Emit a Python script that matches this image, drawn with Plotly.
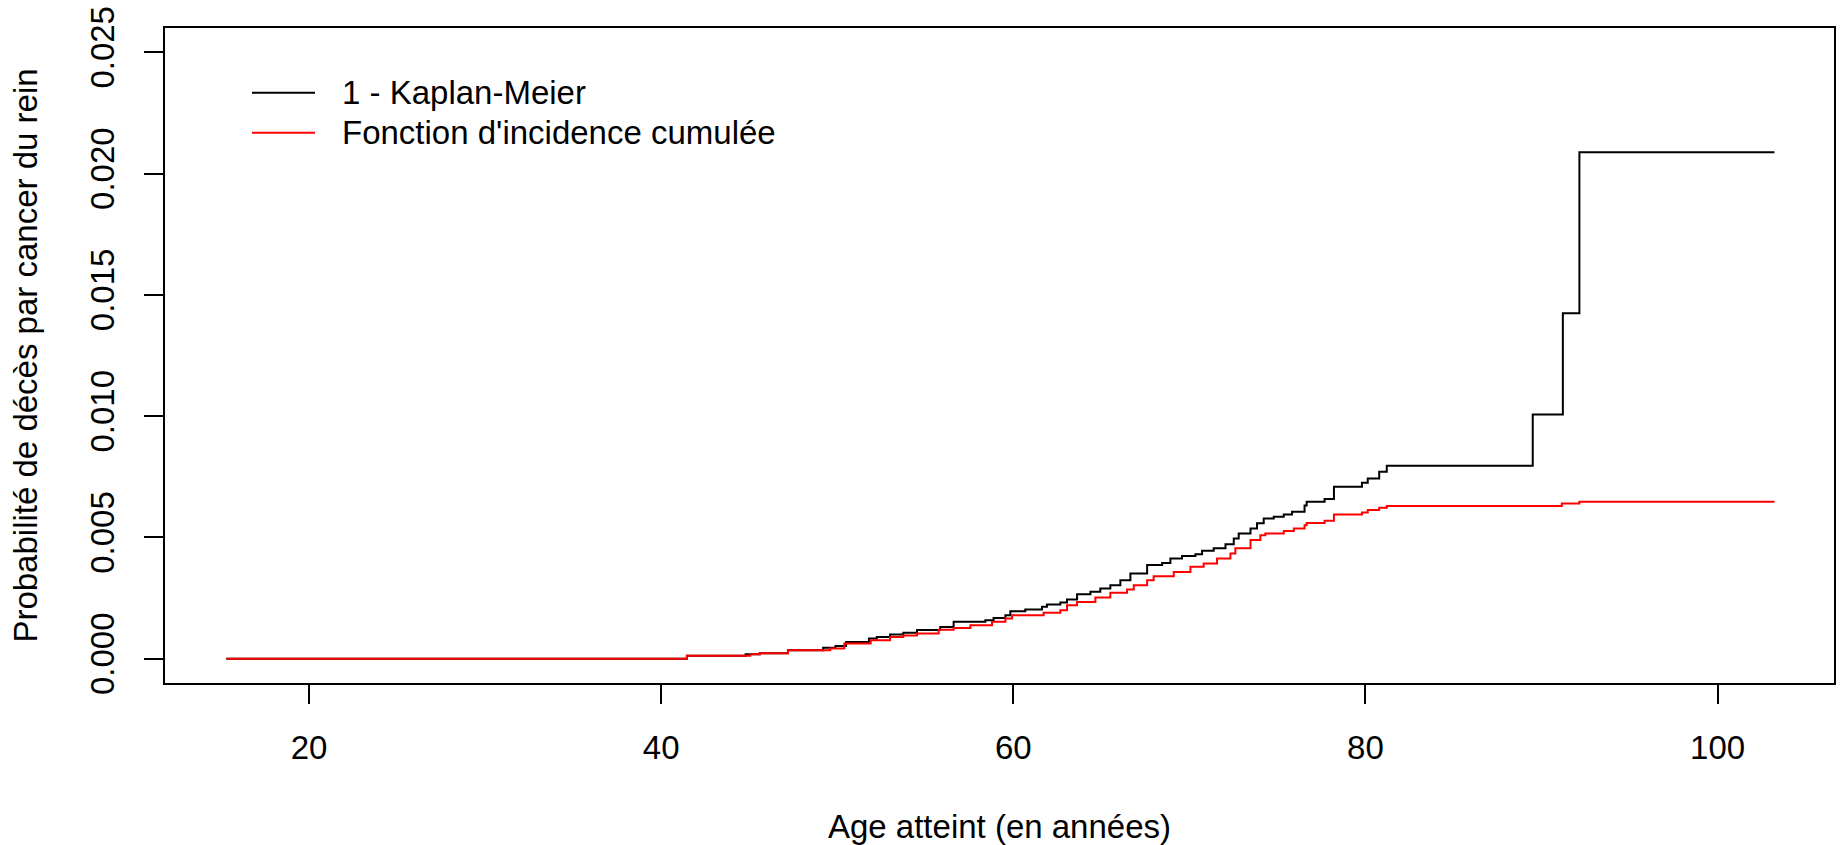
import plotly.graph_objects as go

# Ages (years) at which each curve jumps, and the value reached after the jump
km_age = [15.3, 41.46, 44.8, 45.6, 47.2, 49.2, 49.9, 50.5, 51.8, 52.25, 53.0, 53.75,
          54.53, 55.85, 56.61, 58.41, 58.88, 59.55, 59.83, 60.68, 61.63, 61.91, 62.67,
          63.05, 63.62, 64.38, 64.94, 65.51, 66.08, 66.65, 67.60, 68.45, 68.92, 69.58,
          70.34, 70.72, 71.38, 72.05, 72.52, 72.80, 73.47, 73.84, 74.22, 74.79, 75.36,
          75.83, 76.54, 76.66, 77.68, 78.21, 79.80, 80.13, 80.78, 81.21, 89.50, 91.21,
          92.15, 103.23]
km_val = [0.0, 0.00012, 0.00019, 0.00023, 0.00035, 0.00045, 0.00053, 0.00069, 0.00083,
          0.00090, 0.00100, 0.00107, 0.00118, 0.00131, 0.00152, 0.00159, 0.00168, 0.00179,
          0.00196, 0.00203, 0.00214, 0.00224, 0.00232, 0.00244, 0.00266, 0.00276, 0.00290,
          0.00303, 0.00324, 0.00351, 0.00386, 0.00395, 0.00413, 0.00423, 0.00431, 0.00445,
          0.00455, 0.00472, 0.00496, 0.00516, 0.00537, 0.00558, 0.00578, 0.00585, 0.00595,
          0.00606, 0.00632, 0.00647, 0.00658, 0.00709, 0.00725, 0.00743, 0.00771, 0.00796,
          0.01007, 0.01424, 0.02088, 0.02088]

cif_age = [15.3, 41.46, 45.06, 45.6, 47.2, 49.6, 50.4, 51.9, 53.0, 53.75, 54.53, 55.76,
           56.61, 57.56, 58.79, 59.55, 59.93, 61.72, 62.67, 63.05, 63.62, 64.66, 65.51,
           66.46, 66.84, 67.60, 67.97, 69.11, 70.06, 70.81, 71.57, 72.33, 72.61, 73.47,
           74.03, 74.31, 75.36, 75.93, 76.54, 76.66, 77.68, 78.21, 79.80, 80.13, 80.78,
           81.21, 91.15, 92.15, 103.23]
cif_val = [0.0, 0.00012, 0.00019, 0.00023, 0.00035, 0.00042, 0.00063, 0.00076, 0.00090,
           0.00096, 0.00104, 0.00120, 0.00127, 0.00138, 0.00152, 0.00166, 0.00179, 0.00190,
           0.00200, 0.00221, 0.00234, 0.00252, 0.00272, 0.00285, 0.00303, 0.00324, 0.00340,
           0.00358, 0.00379, 0.00393, 0.00413, 0.00434, 0.00455, 0.00489, 0.00509, 0.00516,
           0.00527, 0.00537, 0.00550, 0.00560, 0.00569, 0.00595, 0.00603, 0.00613, 0.00622,
           0.00630, 0.00640, 0.00647, 0.00647]

x_ticks = [20, 40, 60, 80, 100]
y_ticks = [0.0, 0.005, 0.010, 0.015, 0.020, 0.025]
y_tick_labels = ["0.000", "0.005", "0.010", "0.015", "0.020", "0.025"]

series_names = ["1 - Kaplan-Meier", "Fonction d'incidence cumulée"]
series_colors = ["#000000", "#FF0000"]

FONT = "Liberation Sans, Arial, sans-serif"

fig = go.Figure()
fig.add_trace(go.Scatter(x=km_age, y=km_val, mode="lines", line_shape="hv",
                         name=series_names[0], showlegend=False,
                         line=dict(color=series_colors[0], width=2)))
fig.add_trace(go.Scatter(x=cif_age, y=cif_val, mode="lines", line_shape="hv",
                         name=series_names[1], showlegend=False,
                         line=dict(color=series_colors[1], width=2)))

# Legend drawn in R style (long line samples)
for i, (nm, col) in enumerate(zip(series_names, series_colors)):
    yy = 1 - (92.7 + 40 * i - 28) / 655
    fig.add_shape(type="line", xref="paper", yref="paper",
                  x0=(252 - 165) / 1669, x1=(315 - 165) / 1669, y0=yy, y1=yy,
                  line=dict(color=col, width=2))
    fig.add_annotation(xref="paper", yref="paper", x=(340 - 165) / 1669, y=yy,
                       text=nm, showarrow=False, xanchor="left", yanchor="middle",
                       font=dict(family=FONT, size=33, color="#000000"))

fig.update_layout(
    width=1841, height=845,
    margin=dict(l=165, r=7, t=28, b=162),
    paper_bgcolor="white", plot_bgcolor="white",
    font=dict(family=FONT, size=33, color="#000000"),
    showlegend=False,
)
fig.update_xaxes(
    range=[11.82, 106.61], tickvals=x_ticks, ticktext=[str(v) for v in x_ticks],
    showgrid=False, zeroline=False, showline=True, mirror=True, automargin=False,
    linecolor="black", linewidth=2, ticks="outside", ticklen=19, tickwidth=2,
    tickcolor="black", ticklabelstandoff=15,
    title=dict(text="Age atteint (en années)", standoff=50,
               font=dict(family=FONT, size=33)),
)
fig.update_yaxes(
    range=[-0.001, 0.026], tickvals=y_ticks, ticktext=y_tick_labels,
    tickangle=-90,
    showgrid=False, zeroline=False, showline=True, mirror=True, automargin=False,
    linecolor="black", linewidth=2, ticks="outside", ticklen=19, tickwidth=2,
    tickcolor="black", ticklabelstandoff=17,
    title=dict(text="Probabilité de décès par cancer du rein", standoff=36,
               font=dict(family=FONT, size=33)),
)

fig.write_html("out.html")
